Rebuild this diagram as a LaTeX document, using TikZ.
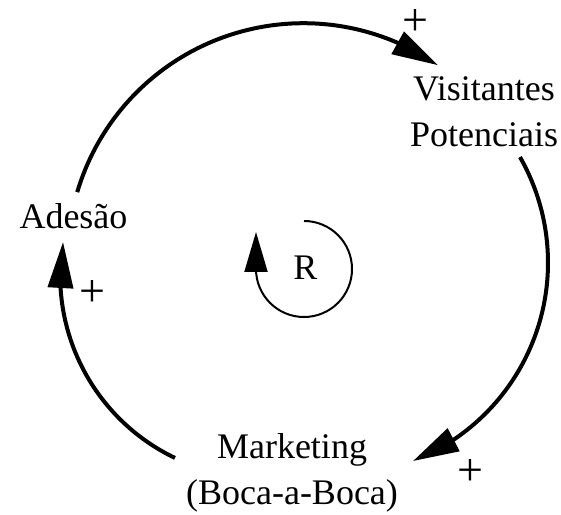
\documentclass[tikz,border=0pt]{standalone}
\usepackage{fontspec}
\setmainfont{Liberation Serif}
\usetikzlibrary{arrows.meta,bending,calc}
\begin{document}
\begin{tikzpicture}[x=1pt,y=1pt,
  lbl/.style={inner sep=0pt, font=\fontsize{36}{46}\selectfont, align=center, anchor=base},
  sgn/.style={inner sep=0pt, font=\fontsize{46}{50}\selectfont},
  link/.style={line width=4pt, -{Triangle[length=46pt,width=25pt,flex]}},
  loopar/.style={line width=2pt, -{Triangle[length=40pt,width=23pt,flex]}}]
\useasboundingbox (0,0) rectangle (561,514);
% variables (base anchor = baseline of last line)
\node[lbl] (vis) at (484,367) {Visitantes\\Potenciais};
\node[lbl] (ade) at (73.5,285) {Adesão};
\node[lbl] (mkt) at (292,10) {Marketing\\(Boca-a-Boca)};
\node[lbl] (r) at (305.5,234) {R};
% polarities
\node[sgn] (p1) at (415,491) {+};
\node[sgn] (p2) at (470,41) {+};
\node[sgn] (p3) at (92,220) {+};
% arc endpoints
\coordinate (a1) at ($(303.5,254.8)+(163.5:236)$);
\coordinate (a2) at ($(334.8,251.3)+(29.7:213.2)$);
\coordinate (a3) at ($(262.3,238.3)+(244.4:202.1)$);
\coordinate (lp) at ($(304,245)+(90:48)$);
% links
\draw[link] (a1) arc[start angle=163.5, end angle=55.3, radius=236];
\draw[link] (a2) arc[start angle=29.7, end angle=-68.5, radius=213.2];
\draw[link] (a3) arc[start angle=244.4, end angle=170.4, radius=202.1];
% loop marker
\draw[loopar] (lp) arc[start angle=90, end angle=-180, radius=48] -- ++(0,37);
\end{tikzpicture}
\end{document}
